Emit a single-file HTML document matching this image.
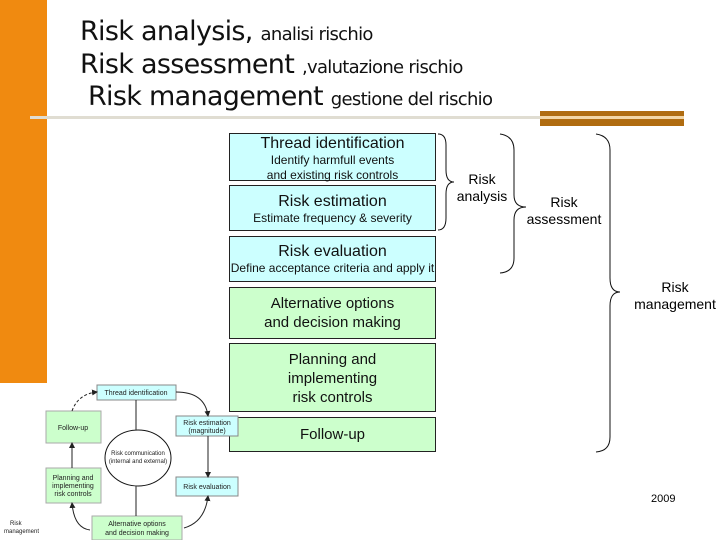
<!DOCTYPE html>
<html><head><meta charset="utf-8"><style>
body{margin:0;width:720px;height:540px;background:#fff;position:relative;overflow:hidden;font-family:"Liberation Sans",sans-serif}
.a{position:absolute}
.t{font-family:"DejaVu Sans","Liberation Sans",sans-serif;color:#111;white-space:nowrap;letter-spacing:-0.7px}
.box{position:absolute;left:229px;width:207px;border:1px solid #222;text-align:center;color:#111;box-sizing:border-box}
.b{background:#ccffff}.g{background:#ccffcc}
</style></head><body>
<div class="a" style="left:0;top:0;width:47px;height:383px;background:#f08a10"></div>
<div class="a" style="left:30px;top:116px;width:510px;height:3px;background:#e0ddd2"></div>
<div class="a" style="left:540px;top:111px;width:144px;height:15px;background:#b06c10"></div>
<div class="a" style="left:540px;top:116px;width:144px;height:3px;background:#f3d6a6"></div>
<div class="a t" style="left:80px;top:16px;font-size:27px">Risk analysis, <span style="font-size:18px">analisi rischio</span></div>
<div class="a t" style="left:80px;top:49px;font-size:27px">Risk assessment <span style="font-size:18px">,valutazione rischio</span></div>
<div class="a t" style="left:88px;top:81px;font-size:27px">Risk management <span style="font-size:18px">gestione del rischio</span></div>

<div class="box b" style="top:133px;height:48px"><div style="font-size:16px;line-height:19px">Thread identification</div><div style="font-size:12px;line-height:15px">Identify harmfull events<br>and existing risk controls</div></div>
<div class="box b" style="top:185px;height:46px"><div style="font-size:16px;line-height:19px;margin-top:6px">Risk estimation</div><div style="font-size:12px;line-height:15px">Estimate frequency &amp; severity</div></div>
<div class="box b" style="top:236px;height:46px"><div style="font-size:16px;line-height:19px;margin-top:5px">Risk evaluation</div><div style="font-size:12px;line-height:15px;white-space:nowrap">Define acceptance criteria and apply it</div></div>
<div class="box g" style="top:287px;height:52px;font-size:15px;line-height:19px;padding-top:6px">Alternative options<br>and decision making</div>
<div class="box g" style="top:343px;height:69px;font-size:15px;line-height:19px;padding-top:6px">Planning and<br>implementing<br>risk controls</div>
<div class="box g" style="top:417px;height:35px;font-size:15px;line-height:33px">Follow-up</div>

<svg class="a" style="left:0;top:0" width="720" height="540" fill="none" stroke="#111" stroke-width="1">
<path d="M438 134 Q446 134 446 145 L446 170 Q446 182 454 182 Q446 182 446 194 L446 218 Q446 230 438 230"/>
<path d="M500 134 Q514 136 514 150 L514 195 Q514 207 526 207 Q514 207 514 220 L514 258 Q514 272 500 273"/>
<path d="M596 134 Q610 136 610 150 L610 278 Q610 292 620 292 Q610 292 610 306 L610 437 Q610 451 596 452"/>
</svg>
<div class="a" style="left:455px;top:171px;width:54px;text-align:center;font-size:14px;line-height:17px">Risk<br>analysis</div>
<div class="a" style="left:522px;top:194px;width:84px;text-align:center;font-size:14px;line-height:17px">Risk<br>assessment</div>
<div class="a" style="left:630px;top:279px;width:90px;text-align:center;font-size:14px;line-height:17px">Risk<br>management</div>
<div class="a" style="left:651px;top:493px;font-size:11px">2009</div>

<svg class="a" style="left:0;top:370px" width="250" height="170" font-family="Liberation Sans" font-size="7" fill="#222">
<defs><marker id="m" markerWidth="6" markerHeight="6" refX="5" refY="3" orient="auto"><path d="M0 0 L6 3 L0 6z" fill="#222"/></marker></defs>
<rect x="97" y="15" width="79" height="15" fill="#ccffff" stroke="#888"/>
<text x="136" y="25" text-anchor="middle">Thread identification</text>
<rect x="46" y="41" width="55" height="32" fill="#ccffcc" stroke="#aaa"/>
<text x="73" y="60" text-anchor="middle">Follow-up</text>
<rect x="176" y="46" width="62" height="20" fill="#ccffff" stroke="#888"/>
<text x="207" y="55" text-anchor="middle">Risk estimation</text><text x="207" y="63" text-anchor="middle">(magnitude)</text>
<rect x="46" y="98" width="55" height="35" fill="#ccffcc" stroke="#aaa"/>
<text x="73" y="110" text-anchor="middle">Planning and</text><text x="73" y="118" text-anchor="middle">implementing</text><text x="73" y="126" text-anchor="middle">risk controls</text>
<rect x="176" y="107" width="62" height="19" fill="#ccffff" stroke="#888"/>
<text x="207" y="119" text-anchor="middle">Risk evaluation</text>
<rect x="92" y="146" width="90" height="24" fill="#ccffcc" stroke="#aaa"/>
<text x="137" y="156" text-anchor="middle">Alternative options</text><text x="137" y="165" text-anchor="middle">and decision making</text>
<ellipse cx="138" cy="88" rx="33" ry="28" fill="#fff" stroke="#111"/>
<text x="138" y="85" text-anchor="middle" font-size="6">Risk communication</text><text x="138" y="93" text-anchor="middle" font-size="6">(internal and external)</text>
<g stroke="#222" fill="none">
<path d="M136 30 V60 M136 116 V146" />
<path d="M208 66 V107" marker-end="url(#m)"/>
<path d="M72 98 V73" marker-end="url(#m)"/>
<path d="M176 22 Q205 22 208 46" marker-end="url(#m)"/>
<path d="M90 160 Q74 158 72 133" marker-end="url(#m)"/>
<path d="M184 158 Q205 152 208 126" marker-end="url(#m)" />
<path d="M72 41 Q78 24 97 22" stroke-dasharray="3 2" marker-end="url(#m)"/>
</g>
<text x="10" y="155" font-size="6">Risk</text><text x="4" y="163" font-size="6">management</text>
</svg>
</body></html>
